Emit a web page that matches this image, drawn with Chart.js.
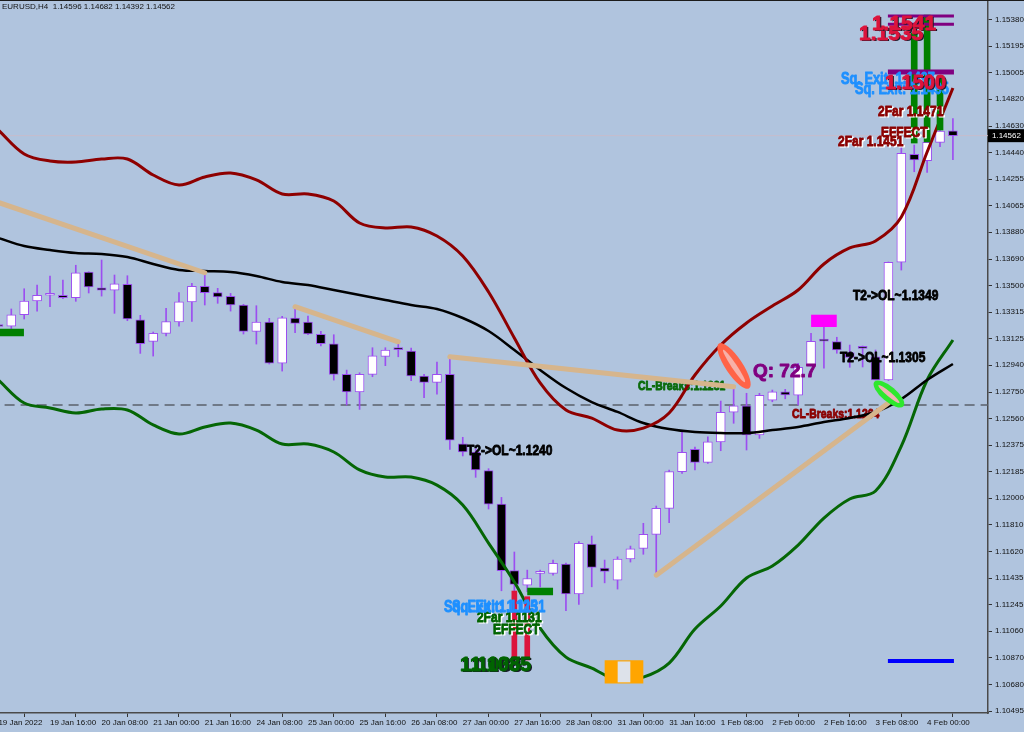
<!DOCTYPE html>
<html>
<head>
<meta charset="utf-8">
<script src="https://cdn.jsdelivr.net/npm/chart.js@4.4.0/dist/chart.umd.min.js"></script>
<style>
  html, body { margin: 0; padding: 0; background: #b0c4de; overflow: hidden; }
  canvas { display: block; }
</style>
</head>
<body>
<canvas id="chart" width="1024" height="732"></canvas>
<script>
const symbol = 'EURUSD,H4';

// H4 candles, 19 Jan 00:00 .. 4 Feb 08:00
const opens = [1.13220, 1.13216, 1.13296, 1.13393, 1.13434, 1.13434, 1.13416, 1.13598, 1.13487, 1.13469,
  1.13511, 1.13261, 1.13108, 1.13165, 1.13245, 1.13386, 1.13497, 1.13452, 1.13426, 1.13365,
  1.13179, 1.13245, 1.12953, 1.13273, 1.13245, 1.13158, 1.13091, 1.12875, 1.12750, 1.12875,
  1.13002, 1.13052, 1.13040, 1.12863, 1.12818, 1.12875, 1.12384, 1.12326, 1.12194, 1.11958,
  1.11487, 1.11385, 1.11468, 1.11468, 1.11534, 1.11322, 1.11675, 1.11505, 1.11420, 1.11571,
  1.11644, 1.11744, 1.11928, 1.12187, 1.12345, 1.12253, 1.12397, 1.12607, 1.12653, 1.12446,
  1.12693, 1.12752, 1.12727, 1.12939, 1.13111, 1.13106, 1.13028, 1.13061, 1.12999, 1.12835,
  1.13667, 1.14430, 1.14385, 1.14515, 1.14596];
const highs = [1.13245, 1.13337, 1.13480, 1.13506, 1.13570, 1.13541, 1.13646, 1.13600, 1.13683, 1.13577,
  1.13572, 1.13292, 1.13174, 1.13341, 1.13452, 1.13518, 1.13593, 1.13483, 1.13447, 1.13370,
  1.13360, 1.13271, 1.13285, 1.13353, 1.13287, 1.13179, 1.13155, 1.12905, 1.12886, 1.13063,
  1.13063, 1.13105, 1.13061, 1.12875, 1.12962, 1.12999, 1.12430, 1.12349, 1.12208, 1.12005,
  1.11619, 1.11491, 1.11491, 1.11562, 1.11541, 1.11692, 1.11732, 1.11562, 1.11585, 1.11661,
  1.11822, 1.11944, 1.12199, 1.12465, 1.12361, 1.12434, 1.12686, 1.12787, 1.12741, 1.12741,
  1.12764, 1.12769, 1.12953, 1.13165, 1.13207, 1.13137, 1.13082, 1.13075, 1.13047, 1.13669,
  1.14484, 1.14496, 1.14602, 1.14720, 1.14682];
const lows = [1.13195, 1.13197, 1.13266, 1.13322, 1.13353, 1.13409, 1.13391, 1.13450, 1.13428, 1.13306,
  1.13254, 1.13023, 1.13004, 1.13146, 1.13216, 1.13249, 1.13365, 1.13377, 1.13322, 1.13160,
  1.13089, 1.12948, 1.12898, 1.13169, 1.13156, 1.13075, 1.12834, 1.12658, 1.12627, 1.12858,
  1.12936, 1.12999, 1.12830, 1.12710, 1.12734, 1.12345, 1.12298, 1.12147, 1.11923, 1.11345,
  1.11338, 1.11338, 1.11373, 1.11456, 1.11204, 1.11249, 1.11373, 1.11401, 1.11357, 1.11548,
  1.11603, 1.11468, 1.11826, 1.12175, 1.12199, 1.12246, 1.12335, 1.12529, 1.12340, 1.12422,
  1.12681, 1.12702, 1.12658, 1.12934, 1.12918, 1.13024, 1.12925, 1.12927, 1.12835, 1.12831,
  1.13612, 1.14307, 1.14303, 1.14484, 1.14392];
const closes = [1.13213, 1.13296, 1.13393, 1.13434, 1.13436, 1.13416, 1.13593, 1.13492, 1.13469, 1.13515,
  1.13266, 1.13091, 1.13165, 1.13247, 1.13388, 1.13497, 1.13452, 1.13423, 1.13365, 1.13179,
  1.13245, 1.12953, 1.13275, 1.13235, 1.13160, 1.13091, 1.12875, 1.12750, 1.12875, 1.13006,
  1.13047, 1.13050, 1.12863, 1.12818, 1.12875, 1.12409, 1.12326, 1.12199, 1.11958, 1.11487,
  1.11390, 1.11432, 1.11470, 1.11539, 1.11322, 1.11680, 1.11510, 1.11482, 1.11569, 1.11642,
  1.11744, 1.11928, 1.12187, 1.12324, 1.12253, 1.12397, 1.12607, 1.12653, 1.12446, 1.12727,
  1.12752, 1.12729, 1.12925, 1.13108, 1.13110, 1.13047, 1.12995, 1.13058, 1.12835, 1.13667,
  1.14438, 1.14390, 1.14515, 1.14595, 1.14562];

// time labels, one every 4 bars
const xLabels = ['19 Jan 2022', '19 Jan 16:00', '20 Jan 08:00', '21 Jan 00:00', '21 Jan 16:00',
  '24 Jan 08:00', '25 Jan 00:00', '25 Jan 16:00', '26 Jan 08:00', '27 Jan 00:00', '27 Jan 16:00',
  '28 Jan 08:00', '31 Jan 00:00', '31 Jan 16:00', '1 Feb 08:00', '2 Feb 00:00', '2 Feb 16:00',
  '3 Feb 08:00', '4 Feb 00:00'];
const yTicks = [1.10495, 1.10680, 1.10870, 1.11060, 1.11245, 1.11435, 1.11620, 1.11810, 1.12000,
  1.12185, 1.12375, 1.12560, 1.12750, 1.12940, 1.13125, 1.13315, 1.13500, 1.13690, 1.13880,
  1.14065, 1.14255, 1.14440, 1.14630, 1.14820, 1.15005, 1.15195, 1.15380];

// channel read every 2 bars
const bandBars = [0, 2, 4, 6, 8, 10, 12, 14, 16, 18, 20, 22, 24, 26, 28, 30, 32, 34, 36, 38,
  40, 42, 44, 46, 48, 50, 52, 54, 56, 58, 60, 62, 64, 66, 68, 70, 72, 74];
const upperBand = [1.14602, 1.14433, 1.14383, 1.14376, 1.14397, 1.14397, 1.14284, 1.14213, 1.14270, 1.14298,
  1.14249, 1.14150, 1.14150, 1.14100, 1.13945, 1.13909, 1.13917, 1.13853, 1.13711, 1.13457,
  1.13132, 1.12814, 1.12623, 1.12566, 1.12481, 1.12495, 1.12602, 1.12870, 1.13082, 1.13238,
  1.13358, 1.13471, 1.13655, 1.13768, 1.13818, 1.13987, 1.14447, 1.14899];
const middleBand = [1.13839, 1.13782, 1.13754, 1.13733, 1.13726, 1.13704, 1.13655, 1.13613, 1.13605, 1.13598,
  1.13570, 1.13528, 1.13506, 1.13471, 1.13436, 1.13400, 1.13365, 1.13337, 1.13273, 1.13181,
  1.13047, 1.12906, 1.12778, 1.12679, 1.12609, 1.12531, 1.12488, 1.12467, 1.12460, 1.12460,
  1.12481, 1.12503, 1.12538, 1.12566, 1.12609, 1.12700, 1.12835, 1.12948];
const lowerBand = [1.12835, 1.12672, 1.12637, 1.12602, 1.12630, 1.12623, 1.12517, 1.12453, 1.12503, 1.12531,
  1.12481, 1.12382, 1.12382, 1.12326, 1.12199, 1.12149, 1.12149, 1.12092, 1.11951, 1.11682,
  1.11407, 1.11081, 1.10876, 1.10799, 1.10714, 1.10735, 1.10834, 1.11074, 1.11237, 1.11435,
  1.11520, 1.11668, 1.11859, 1.11994, 1.12050, 1.12368, 1.12835, 1.13118];

// trend lines: [bar, price] -> [bar, price]
const trendLines = [
  [[0, 1.14090], [16, 1.13593]],
  [[23, 1.13353], [31, 1.13105]],
  [[35, 1.12999], [57, 1.12787]],
  [[51, 1.11455], [69, 1.12672]]
];
const breakLevel = 1.12658;

// objects drawn by the signal indicator
const greenStubs = [[-1, 1.98, 1.13171], [41, 43, 1.11340]];
const blueStub = [68.96, 74.08, 1.10849];
const purpleLevels = [1.15408, 1.15349, 1.15012];
const greenColumns = [[71, 1.14510, 1.15288], [72, 1.14517, 1.15415], [73, 1.14602, 1.14985]];
const redColumns = [[40, 1.10856, 1.11343], [41, 1.10856, 1.11303]];
const magentaBox = [64, 1.13212, 1.13294];
const orangeBox = [48.5, 1.10692, 1.10851];
const ovals = [[57.03, 1.12934], [69.04, 1.12736]];

const notes = [
  { text: 'CL-Breaks:1.1281', bar: 49.58, price: 1.12792, color: '#0a6a0a', size: 13, under: true },
  { text: 'CL-Breaks:1.1264', bar: 61.52, price: 1.12595, color: '#8b0000', size: 13, under: true },
  { text: 'T2->OL~1.1240', bar: 36.33, price: 1.12333, color: '#000', size: 15 },
  { text: 'Q: 72.7', bar: 58.5, price: 1.12892, color: '#800080', size: 19, wide: true },
  { text: 'T2->OL~1.1305', bar: 65.24, price: 1.12990, color: '#000', size: 15 },
  { text: 'T2->OL~1.1349', bar: 66.25, price: 1.13429, color: '#000', size: 15 },
  { text: 'Sq. Exit: 1.1497', bar: 65.32, price: 1.14956, color: '#1e90ff', size: 16 },
  { text: 'Sq. Exit: 1.1495', bar: 66.41, price: 1.14885, color: '#1e90ff', size: 16 },
  { text: '1.1500', bar: 68.73, price: 1.14934, color: '#dc143c', size: 20, wide: true, dark: true },
  { text: '1.1535', bar: 66.72, price: 1.15282, color: '#dc143c', size: 21, wide: true, dark: true },
  { text: '1.1541', bar: 67.72, price: 1.15352, color: '#dc143c', size: 21, wide: true, dark: true },
  { text: '2Far 1.1471', bar: 68.19, price: 1.14733, color: '#8b0000', size: 15, light: true },
  { text: 'EFFECT', bar: 68.42, price: 1.14581, color: '#8b0000', size: 15, light: true },
  { text: '2Far 1.1451', bar: 65.09, price: 1.14518, color: '#8b0000', size: 15, light: true },
  { text: '2Far 1.1131', bar: 37.10, price: 1.11152, color: '#006400', size: 15, light: true },
  { text: 'EFFECT', bar: 38.34, price: 1.11067, color: '#006400', size: 15, light: true },
  { text: 'Sq. Exit: 1.1125', bar: 34.55, price: 1.11223, color: '#1e90ff', size: 16 },
  { text: 'Sq. Exit: 1.1131', bar: 35.17, price: 1.11223, color: '#1e90ff', size: 16 },
  { text: '1.1085', bar: 35.79, price: 1.10820, color: '#006400', size: 20, wide: true, dark: true },
  { text: '1.1085', bar: 36.56, price: 1.10820, color: '#006400', size: 20, wide: true, dark: true }
];

const purple = '#9c4ef0';
const bars = opens.map((_, i) => i);

function seg(x1, x2, y) {
  return [{ x: x1, y: y }, { x: x2, y: y }];
}
function band(values) {
  return values.map((v, k) => ({ x: bandBars[k], y: v }));
}
function lineSet(data, color, width, order, extra) {
  return Object.assign({ type: 'line', data: data, borderColor: color, borderWidth: width,
    pointRadius: 0, fill: false, order: order }, extra || {});
}
function boxSet(data, color, thickness, order) {
  return { type: 'bar', data: data, backgroundColor: color, borderWidth: 0,
    barThickness: thickness, grouped: false, order: order };
}

function drawNote(ctx, n, x, y) {
  ctx.save();
  ctx.font = 'bold ' + n.size + 'px "Liberation Sans", Arial, sans-serif';
  ctx.textBaseline = 'middle';
  ctx.lineJoin = 'round';
  ctx.lineWidth = 0.9;
  ctx.translate(x, y);
  if (!n.wide) ctx.scale(0.8, 1);
  if (n.light) {
    ctx.fillStyle = '#ffffff';
    ctx.strokeStyle = '#ffffff';
    ctx.fillText(n.text, 2, 1);
    ctx.strokeText(n.text, 2, 1);
  }
  if (n.dark) {
    ctx.fillStyle = '#1a1a2a';
    ctx.fillText(n.text, 1.5, 1.5);
  }
  ctx.fillStyle = n.color;
  ctx.strokeStyle = n.color;
  ctx.fillText(n.text, 0, 0);
  ctx.strokeText(n.text, 0, 0);
  ctx.restore();
}

function drawOval(ctx, x, y, rx, ry, angle, outer, inner) {
  ctx.save();
  ctx.translate(x, y);
  ctx.rotate(angle * Math.PI / 180);
  ctx.fillStyle = outer;
  ctx.beginPath();
  ctx.ellipse(0, 0, rx, ry, 0, 0, Math.PI * 2);
  ctx.fill();
  ctx.fillStyle = inner;
  ctx.beginPath();
  ctx.ellipse(0, 0, rx * 0.72, ry * 0.3, 0, 0, Math.PI * 2);
  ctx.fill();
  ctx.restore();
}

const overlay = {
  id: 'overlay',
  beforeDraw(chart) {
    const ctx = chart.ctx;
    ctx.save();
    ctx.fillStyle = '#b0c4de';
    ctx.fillRect(0, 0, chart.width, chart.height);
    ctx.restore();
  },
  beforeDatasetsDraw(chart) {
    const xs = chart.scales.x, ys = chart.scales.y;
    notes.filter(n => n.under).forEach(n => {
      drawNote(chart.ctx, n, xs.getPixelForValue(n.bar), ys.getPixelForValue(n.price));
    });
  },
  afterDatasetsDraw(chart) {
    const ctx = chart.ctx;
    const xs = chart.scales.x, ys = chart.scales.y;
    const a = chart.chartArea;

    ctx.save();
    ctx.beginPath();
    ctx.rect(a.left, a.top, a.right - a.left, a.bottom - a.top);
    ctx.clip();
    drawOval(ctx, xs.getPixelForValue(ovals[0][0]), ys.getPixelForValue(ovals[0][1]), 27, 8.5, 56, '#ff6347', '#f7b0a8');
    drawOval(ctx, xs.getPixelForValue(ovals[1][0]), ys.getPixelForValue(ovals[1][1]), 19, 7.5, 40, '#2ee82e', '#f0b4b4');
    notes.filter(n => !n.under).forEach(n => {
      drawNote(ctx, n, xs.getPixelForValue(n.bar), ys.getPixelForValue(n.price));
    });
    ctx.restore();

    // header
    const last = opens.length - 1;
    ctx.save();
    ctx.fillStyle = '#1b1b1b';
    ctx.fillRect(0, 0, chart.width, 1);
    ctx.font = '8px "Liberation Sans", Arial, sans-serif';
    ctx.textBaseline = 'middle';
    ctx.fillStyle = '#111';
    ctx.fillText(symbol + '  ' + opens[last].toFixed(5) + ' ' + highs[last].toFixed(5) + ' ' +
      lows[last].toFixed(5) + ' ' + closes[last].toFixed(5), 2, 7);

    // current price tag
    const py = ys.getPixelForValue(closes[last]);
    ctx.fillStyle = '#000';
    ctx.fillRect(a.right, py - 6.5, chart.width - a.right, 13);
    ctx.fillStyle = '#fff';
    ctx.fillText(closes[last].toFixed(5), a.right + 4, py + 0.5);
    ctx.restore();
  }
};

const datasets = [
  lineSet(seg(-2, 80, breakLevel), '#59606b', 1.5, 100, { borderDash: [10, 6] }),
  lineSet(seg(-2, 80, closes[closes.length - 1]), '#c6bccb', 1, 99),
  { type: 'bar', data: bars.map(i => ({ x: i, y: [lows[i], highs[i]] })), backgroundColor: purple,
    borderWidth: 0, barThickness: 1, grouped: false, order: 90 },
  { type: 'bar', data: bars.map(i => ({ x: i, y: [opens[i], closes[i]] })),
    backgroundColor: c => closes[c.dataIndex] >= opens[c.dataIndex] ? '#ffffff' : '#000000',
    borderColor: purple, borderWidth: 1, borderSkipped: false, barThickness: 9, minBarLength: 2,
    grouped: false, order: 89 },
  lineSet(band(upperBand), '#8e0000', 3, 80, { tension: 0.35 }),
  lineSet(band(middleBand), '#000000', 2.5, 80, { tension: 0.35 }),
  lineSet(band(lowerBand), '#056605', 3, 80, { tension: 0.35 })
];
trendLines.forEach(t => {
  datasets.push(lineSet([{ x: t[0][0], y: t[0][1] }, { x: t[1][0], y: t[1][1] }], '#d6b58c', 5, 70,
    { borderCapStyle: 'round' }));
});
greenStubs.forEach(g => datasets.push(lineSet(seg(g[0], g[1], g[2]), '#008000', 7.5, 60)));
datasets.push(lineSet(seg(blueStub[0], blueStub[1], blueStub[2]), '#0000ff', 4, 60));
purpleLevels.forEach((p, k) => {
  datasets.push(lineSet(seg(68.96, 74.08, p), '#800080', k === 2 ? 5 : 3, 60));
});
datasets.push(boxSet(greenColumns.map(g => ({ x: g[0], y: [g[1], g[2]] })), '#008000', 6, 61));
datasets.push(boxSet(redColumns.map(r => ({ x: r[0], y: [r[1], r[2]] })), '#dc143c', 5, 61));
datasets.push(boxSet([{ x: magentaBox[0], y: [magentaBox[1], magentaBox[2]] }], '#ff00ff', 25, 61));
datasets.push(boxSet([{ x: orangeBox[0], y: [orangeBox[1], orangeBox[2]] }], '#ffa500', 38, 62));
datasets.push(boxSet([{ x: orangeBox[0], y: [orangeBox[1] + 0.00008, orangeBox[2] - 0.00008] }], '#dde2ea', 12, 61));

new Chart(document.getElementById('chart'), {
  type: 'bar',
  data: { datasets: datasets },
  options: {
    responsive: false,
    animation: false,
    devicePixelRatio: 1,
    layout: { padding: 0 },
    plugins: { legend: { display: false }, tooltip: { enabled: false }, title: { display: false } },
    scales: {
      x: {
        type: 'linear', position: 'bottom', min: 0.124, max: 76.72, offset: false,
        afterBuildTicks: s => { s.ticks = xLabels.map((_, k) => ({ value: k * 4 })); },
        afterFit: s => { s.height = 19; s.paddingLeft = 0; s.paddingRight = 0; },
        ticks: {
          align: 'start', maxRotation: 0, autoSkip: false, padding: 1, color: '#111',
          font: { size: 8, family: '"Liberation Sans", Arial, sans-serif' },
          callback: (v, k) => xLabels[k]
        },
        grid: { drawOnChartArea: false, tickLength: 4, color: '#333' },
        border: { color: '#4a4a4a', width: 1.5 }
      },
      y: {
        type: 'linear', position: 'right', min: 1.10481, max: 1.15521, beginAtZero: false,
        afterBuildTicks: s => { s.ticks = yTicks.map(v => ({ value: v })); },
        afterFit: s => { s.width = 36; s.paddingTop = 0; s.paddingBottom = 0; },
        ticks: {
          padding: 3, color: '#111',
          font: { size: 8, family: '"Liberation Sans", Arial, sans-serif' },
          callback: v => Number(v).toFixed(5)
        },
        grid: { drawOnChartArea: false, tickLength: 4, color: '#333' },
        border: { color: '#4a4a4a', width: 1.5 }
      }
    }
  },
  plugins: [overlay]
});
</script>
</body>
</html>
